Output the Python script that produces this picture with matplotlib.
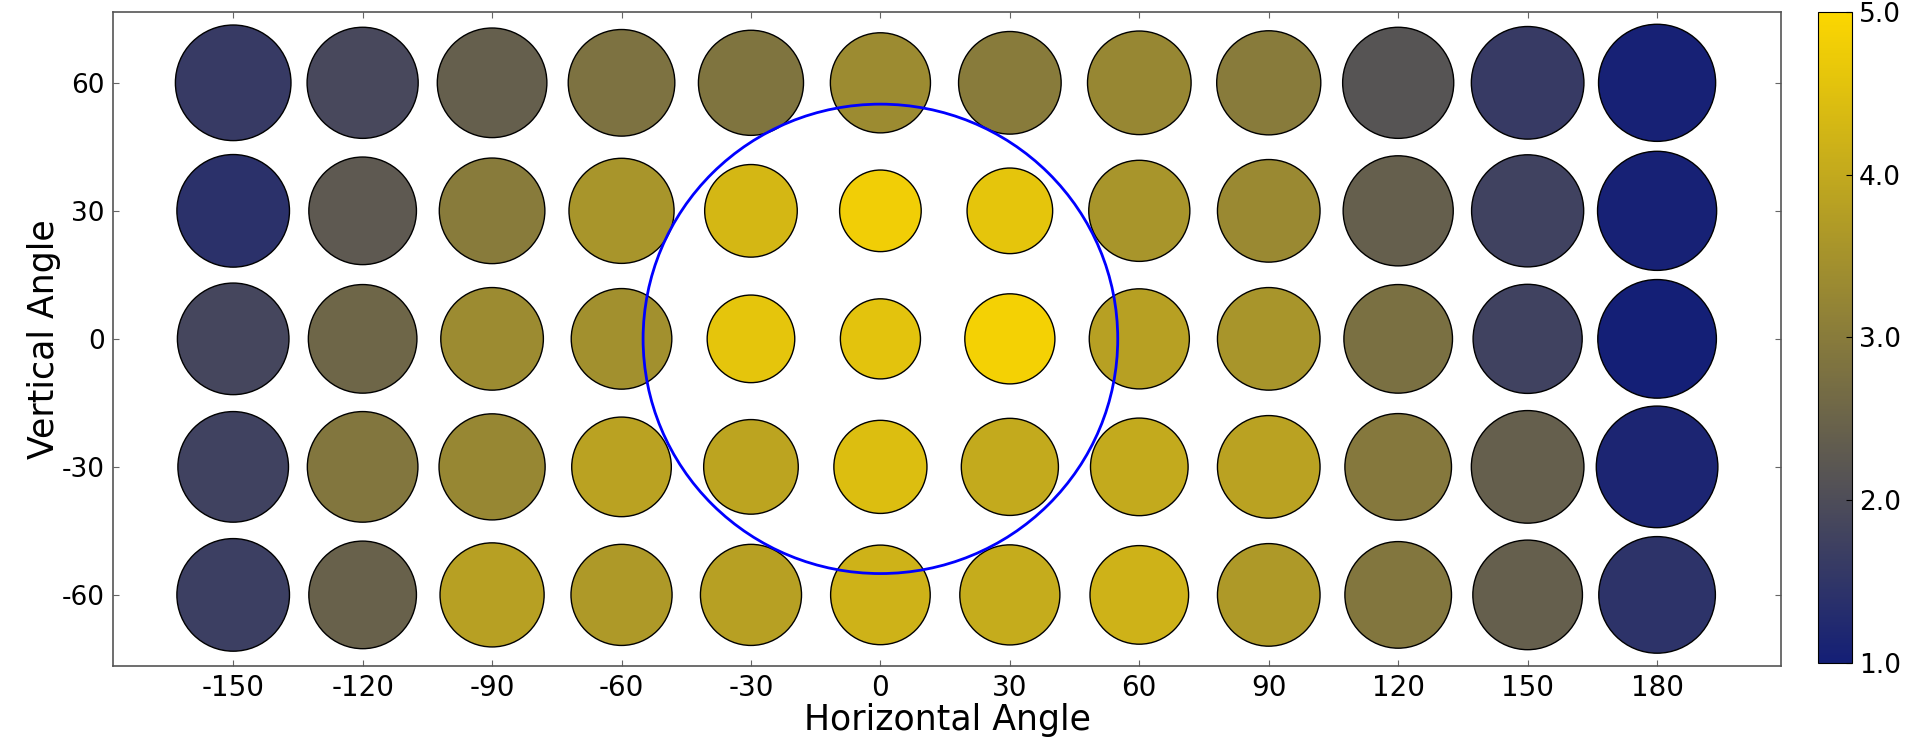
import numpy as np
import matplotlib
matplotlib.use('Agg')
import matplotlib.pyplot as plt
from matplotlib.colors import LinearSegmentedColormap
from matplotlib.patches import Circle

plt.rcParams['axes.unicode_minus'] = False

h_angles = [-150, -120, -90, -60, -30, 0, 30, 60, 90, 120, 150, 180]
v_angles = [60, 30, 0, -30, -60]

# mean score for every (vertical, horizontal) cell, rows follow v_angles
score = [
    [1.60, 1.90, 2.40, 2.80, 2.85, 3.35, 3.00, 3.25, 3.00, 2.15, 1.60, 1.05],
    [1.40, 2.27, 3.00, 3.55, 4.30, 4.80, 4.60, 3.55, 3.30, 2.40, 1.75, 1.05],
    [1.85, 2.55, 3.35, 3.45, 4.60, 4.55, 4.85, 3.80, 3.55, 2.75, 1.75, 1.00],
    [1.75, 2.90, 3.25, 3.85, 3.90, 4.45, 4.00, 4.00, 3.85, 2.95, 2.40, 1.15],
    [1.70, 2.45, 3.80, 3.65, 3.80, 4.20, 4.05, 4.20, 3.65, 2.90, 2.40, 1.45],
]

# spread of the scores, shown as circle diameter
spread = [
    [117, 112.5, 111, 108, 106.5, 101.5, 104, 105, 105.5, 112.5, 114, 118.5],
    [114, 109, 107, 106.5, 94, 83, 87, 102.5, 104, 111.5, 113.5, 120.5],
    [113, 110, 104, 102, 89, 81.5, 91.5, 101.5, 104, 110, 110.5, 120],
    [112, 112, 107.5, 101, 96, 94.5, 98.5, 99, 104, 108, 114, 123],
    [114, 109, 105.5, 102.5, 102.5, 101, 101.5, 100, 104, 108, 111, 118],
]

fov_radius = 55

X, Y = np.meshgrid(h_angles, v_angles)
C = np.array(score)
S = ((np.array(spread) - 1.4) * 0.72) ** 2

cmap = LinearSegmentedColormap.from_list('blue_gold', ['#141f76', '#fcd700'])

fig = plt.figure(figsize=(19.16, 7.44), dpi=100)
ax = fig.add_axes([0.0591, 0.1052, 0.8704, 0.8787])

sc = ax.scatter(X.ravel(), Y.ravel(), s=S.ravel(), c=C.ravel(), cmap=cmap,
                vmin=1, vmax=5, edgecolors='black', linewidths=1.0, zorder=2)
ax.add_patch(Circle((0, 0), fov_radius, fill=False, edgecolor='#0000ff',
                    linewidth=2.0, zorder=3))

ax.set_xlim(-177.8, 208.7)
ax.set_ylim(-76.6, 76.6)
ax.set_xticks(h_angles)
ax.set_yticks(v_angles)
ax.tick_params(direction='in', top=True, right=True, length=4, color='#666666')
ax.tick_params(axis='x', labelsize=20, pad=6)
ax.tick_params(axis='y', labelsize=19, pad=6)
for s in ax.spines.values():
    s.set_color('#555555')
    s.set_linewidth(1.2)

ax.set_xlabel('Horizontal Angle', fontsize=25, labelpad=1)
ax.set_ylabel('Vertical Angle', fontsize=25, labelpad=1)

cax = fig.add_axes([0.9489, 0.1089, 0.0177, 0.875])
cb = fig.colorbar(sc, cax=cax, ticks=[1, 2, 3, 4, 5], format='%.1f')
cb.ax.tick_params(labelsize=19, direction='in', length=4, pad=5)
cb.outline.set_edgecolor('black')

fig.savefig('out.png', dpi=100)
